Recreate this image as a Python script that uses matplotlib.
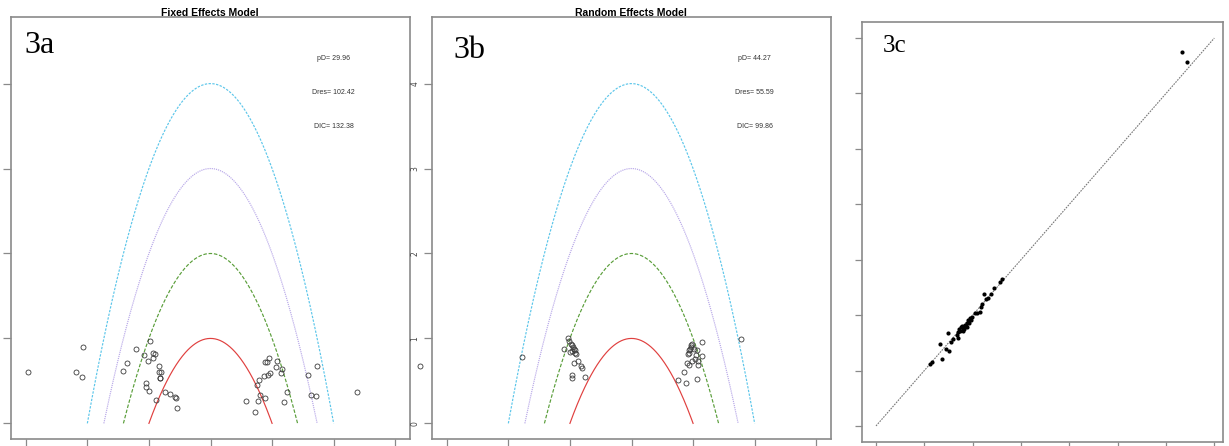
import numpy as np
import matplotlib
matplotlib.use("Agg")
import matplotlib.pyplot as plt

# leverage vs. signed residual (fixed effects)
fixed_x = [-2.96, -2.07, -2.18, -2.08, -1.42, -1.35, -1.21, -1.08, -0.98, -1.02,
           -0.93, -0.90, -0.93, -0.83, -0.81, -0.83, -0.82, -0.82, -1.04, -1.04,
           -1.00, -0.89, -0.74, -0.66, -0.57, -0.56, -0.55,
           3.40, 2.38, 1.73, 1.59, 1.63, 1.71, 1.25, 1.19, 1.08, 1.06, 1.16, 1.15,
           0.95, 0.89, 0.92, 0.96, 0.93, 0.87, 0.79, 0.75, 0.80, 0.88, 0.77, 0.57, 0.72]
fixed_y = [0.61, 0.90, 0.61, 0.55, 0.62, 0.71, 0.87, 0.80, 0.965, 0.73,
           0.83, 0.82, 0.77, 0.67, 0.61, 0.60, 0.54, 0.53, 0.48, 0.43,
           0.38, 0.28, 0.37, 0.35, 0.31, 0.30, 0.18,
           0.68, 0.37, 0.67, 0.57, 0.33, 0.32, 0.365, 0.25, 0.73, 0.66, 0.64, 0.59,
           0.765, 0.72, 0.725, 0.59, 0.565, 0.56, 0.51, 0.45, 0.33, 0.30, 0.26, 0.26, 0.13]

# random effects
random_x = [-1.78, -1.09, -1.03, -1.01, -0.99, -0.97, -0.95, -0.93, -0.92, -0.91,
            -0.90, -1.00, -0.97, -0.87, -0.93, -0.82, -0.81, -0.97, -0.96, -0.75,
            1.78, 1.14, 0.99, 0.97, 0.96, 0.95, 0.94, 0.94, 0.92, 1.01, 1.06, 1.05,
            1.14, 1.03, 0.99, 1.08, 0.90, 0.94, 1.08, 0.85, 0.75, 0.89, 1.06]
random_y = [0.78, 0.875, 1.00, 0.97, 0.94, 0.92, 0.90, 0.88, 0.86, 0.83,
            0.815, 0.835, 0.85, 0.73, 0.71, 0.67, 0.65, 0.57, 0.53, 0.545,
            0.99, 0.96, 0.94, 0.92, 0.90, 0.88, 0.86, 0.83, 0.815, 0.87, 0.86, 0.81,
            0.79, 0.76, 0.74, 0.74, 0.71, 0.69, 0.69, 0.60, 0.51, 0.48, 0.525]

# observed vs. fitted
obs = [1.12, 1.15, 1.36, 1.33, 1.44, 1.50, 1.49, 1.55, 1.60, 1.68, 1.69, 1.70,
       1.72, 1.75, 1.78, 1.74, 1.81, 1.84, 1.88, 1.91, 1.95, 1.88, 1.93, 1.98,
       1.97, 2.05, 2.08, 2.15, 2.17, 2.19, 2.24, 2.28, 2.31, 2.38, 2.44, 2.57,
       2.60, 1.79, 1.83, 1.86, 6.33, 6.43]
fit = [1.12, 1.155, 1.20, 1.47, 1.38, 1.36, 1.68, 1.51, 1.57, 1.64, 1.58, 1.70,
       1.745, 1.78, 1.805, 1.71, 1.76, 1.82, 1.86, 1.91, 1.94, 1.79, 1.85, 1.97,
       1.91, 2.045, 2.045, 2.06, 2.15, 2.20, 2.38, 2.29, 2.31, 2.38, 2.49, 2.59,
       2.65, 1.72, 1.75, 1.80, 6.745, 6.57]

levels = [1, 2, 3, 4]
level_colors = ["#e0403f", "#5a9e3a", "#b8a8e8", "#5cc6ea"]
level_styles = ["-", (0, (3, 1.5)), (0, (1, 0.8)), (0, (2, 1.2))]

titles = ["Fixed Effects Model", "Random Effects Model"]
stats = [["pD= 29.96", "Dres= 102.42", "DIC= 132.38"],
         ["pD= 44.27", "Dres= 55.59", "DIC= 99.86"]]
panel_labels = ["3a", "3b", "3c"]

W, H = 1229, 446
fig = plt.figure(figsize=(W / 100, H / 100), dpi=100)


def box(l, t, r, b):
    return [l / W, 1 - b / H, (r - l) / W, (b - t) / H]


edge = "#8a8a8a"
ax_a = fig.add_axes(box(11, 17, 410, 439))
ax_b = fig.add_axes(box(432, 17, 831, 439))
ax_c = fig.add_axes(box(862, 22, 1223, 442))

for i, (ax, xs, ys) in enumerate([(ax_a, fixed_x, fixed_y), (ax_b, random_x, random_y)]):
    for c, col, ls in zip(levels, level_colors, level_styles):
        xx = np.linspace(-np.sqrt(c), np.sqrt(c), 200)
        ax.plot(xx, c - xx ** 2, color=col, ls=ls, lw=0.85)
    ax.plot(xs, ys, "o", mfc="none", mec="#3a3a3a", ms=3.6, mew=0.6, clip_on=False)
    ax.set_xlim(-3.24, 3.24)
    ax.set_ylim(-0.184, 4.784)
    ax.set_xticks(range(-3, 4))
    ax.set_yticks(range(0, 5))
    ax.set_xticklabels([])
    if i == 1:
        ax.set_yticklabels([str(v) for v in range(5)], rotation=90, va="center",
                           fontsize=5.5, color="#444444")
    else:
        ax.set_yticklabels([])
    for k, s in enumerate(stats[i]):
        ax.text(2, 4.3 - 0.4 * k, s, ha="center", va="center", fontsize=5,
                family="Liberation Sans", color="#333333")

ax_a.tick_params(length=6, width=0.9, color=edge, pad=2)
ax_b.tick_params(length=6, width=0.9, color=edge, pad=3)

fig.text(210 / W, 1 - 13 / H, titles[0], ha="center", va="center", fontsize=7.5,
         family="Liberation Sans", weight="bold")
fig.text(631 / W, 1 - 13 / H, titles[1], ha="center", va="center", fontsize=7.5,
         family="Liberation Sans", weight="bold")

ax_c.plot([0, 7], [0, 7], color="#777777", ls=(0, (1.5, 1)), lw=0.8)
ax_c.plot(obs, fit, "o", color="black", ms=3.0, mew=0)
ax_c.set_xlim(-0.29, 7.18)
ax_c.set_ylim(-0.29, 7.29)
ax_c.set_xticks(range(8))
ax_c.set_yticks(range(8))
ax_c.set_xticklabels([])
ax_c.set_yticklabels([])
ax_c.tick_params(length=5, width=0.9, color=edge)

for ax in [ax_a, ax_b, ax_c]:
    for sp in ax.spines.values():
        sp.set_color(edge)
        sp.set_linewidth(1.2)

fig.text(24 / W, 1 - 53 / H, panel_labels[0], fontsize=23, family="Liberation Serif", va="baseline")
fig.text(453 / W, 1 - 58 / H, panel_labels[1], fontsize=23, family="Liberation Serif", va="baseline")
fig.text(883 / W, 1 - 52 / H, panel_labels[2], fontsize=18, family="Liberation Serif", va="baseline")

fig.savefig("out.png", dpi=100)
